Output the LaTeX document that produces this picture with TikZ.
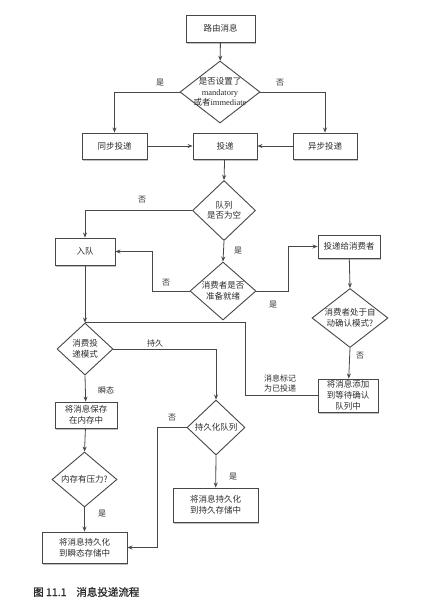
\documentclass[tikz,border=0pt]{standalone}
\usepackage{fontspec}
\setmainfont{Noto Sans CJK SC}
\newfontfamily\latfont{Liberation Serif}
\newfontfamily\capfont[FakeBold=1.2]{Noto Sans CJK SC}
\usepackage{tikz}
\usetikzlibrary{arrows.meta,positioning,shapes.geometric,shadows}
\usepackage{xcolor}
\definecolor{ink}  {HTML}{2E2E2E}
\definecolor{wire} {HTML}{474747}

\tikzset{
  box/.style={draw=wire, line width=0.9pt, fill=white, align=center,
    inner sep=0pt, text=ink, font=\fontsize{8.5}{11}\selectfont,
    drop shadow={shadow xshift=1pt, shadow yshift=-1.6pt, opacity=.5}},
  dia/.style={diamond, draw=wire, line width=0.9pt, fill=white, inner sep=0pt},
  dtext/.style={align=center, text=ink, inner sep=0pt,
    font=\fontsize{8.5}{10.5}\selectfont},
  flow/.style={draw=wire, line width=0.8pt, -{Stealth[length=5pt,width=4pt]}},
  link/.style={draw=wire, line width=0.8pt},
  tag/.style={text=ink, inner sep=0pt, font=\fontsize{8}{10}\selectfont},
}

\begin{document}
\begin{tikzpicture}[x=1pt, y=-1pt]
  \useasboundingbox[fill=white] (0,0) rectangle (441,610);

  % top part
  \node[box, minimum width=69pt, minimum height=27pt] (route) at (220.5,28.5) {路由消息};
  \node[dia, minimum width=80pt, minimum height=62pt,
    label={[dtext]center:{是否设置了\\{\latfont mandatory}\\或者{\latfont immediate}}}] (mand) at (220,92) {};
  \node[box, minimum width=65pt, minimum height=26pt] (sync) at (114.5,146) {同步投递};
  \node[box, minimum width=64pt, minimum height=26pt] (deliver) at (225,146) {投递};
  \node[box, minimum width=64pt, minimum height=26pt] (async) at (325,146) {异步投递};

  % queue part
  \node[dia, minimum width=63pt, minimum height=60pt,
    label={[dtext]center:{队列\\是否为空}}] (empty) at (224,210.5) {};
  \node[box, minimum width=60pt, minimum height=27pt] (enq) at (85,251.5) {入队};
  \node[dia, minimum width=66pt, minimum height=58pt,
    label={[dtext]center:{消费者是否\\准备就绪}}] (ready) at (223,291) {};
  \node[box, minimum width=62pt, minimum height=23pt] (tocons) at (349,246.5) {投递给消费者};
  \node[dia, minimum width=76pt, minimum height=59pt,
    label={[dtext]center:{消费者处于自\\动确认模式?}}] (auto) at (350,318) {};
  \node[box, minimum width=60pt, minimum height=33pt] (addwait) at (348,395.5) {将消息添加\\到等待确认\\队列中};

  % delivery mode part
  \node[dia, minimum width=56pt, minimum height=52pt,
    label={[dtext]center:{消费投\\递模式}}] (mode) at (85,349) {};
  \node[box, minimum width=62pt, minimum height=26pt] (savemem) at (86,415) {将消息保存\\在内存中};
  \node[dia, minimum width=65pt, minimum height=55pt,
    label={[dtext]center:{内存有压力?}}] (press) at (84.5,479.5) {};
  \node[box, minimum width=85pt, minimum height=31pt] (perstrans) at (84.5,547.5) {将消息持久化\\到瞬态存储中};
  \node[dia, minimum width=58pt, minimum height=55pt,
    label={[dtext]center:{持久化队列}}] (persist) at (216,427.5) {};
  \node[box, minimum width=85pt, minimum height=34pt] (persdur) at (215.5,505) {将消息持久化\\到持久存储中};

  % connectors
  \draw[flow] (route) -- (mand);
  \draw[flow] (mand.west) -| (sync.north);
  \draw[flow] (mand.east) -| (async.north);
  \draw[flow] (sync) -- (deliver);
  \draw[flow] (async) -- (deliver);
  \draw[flow] (deliver) -- (empty.north);
  \draw[flow] (empty.west) -| (enq.north);
  \draw[flow] (empty.south) -- (ready.north);
  \draw[flow] (ready.west) -- ++(-37,0) |- (enq.east);
  \draw[flow] (ready.east) -- ++(32,0) |- (tocons.west);
  \draw[flow] (tocons) -- (auto.north);
  \draw[flow] (auto.south) -- (addwait);
  \draw[flow] (enq) -- (mode.north);
  \draw[link] (addwait.west) -| ([xshift=160pt]mode.north) -- (mode.north);
  \draw[flow] (mode.east) -| (persist.north);
  \draw[flow] (mode.south) -- (savemem);
  \draw[flow] (savemem) -- (press.north);
  \draw[flow] (press.south) -- (perstrans);
  \draw[flow] (persist.west) -- ++(-29,0) |- (perstrans.east);
  \draw[flow] (persist.south) -- (persdur);

  % labels
  \node[tag] (yes1) at (160,83) {是};
  \node[tag] (no1) at (280,83) {否};
  \node[tag] (no2) at (142,200) {否};
  \node[tag] (yes2) at (238,251) {是};
  \node[tag] (no3) at (166,283) {否};
  \node[tag] (yes3) at (273,305) {是};
  \node[tag] (no4) at (360,356) {否};
  \node[tag, align=center] (marked) at (280,383) {消息标记\\为已投递};
  \node[tag] (durable) at (155,343) {持久};
  \node[tag] (transient) at (106,390) {瞬态};
  \node[tag] (no5) at (172,418) {否};
  \node[tag] (yes4) at (102,514) {是};
  \node[tag] (yes5) at (233,477) {是};

  \node[anchor=west, text=ink, inner sep=0pt, font=\capfont\fontsize{10.5}{12}\selectfont]
    (caption) at (33,592) {图 11.1\hspace{10pt}消息投递流程};
\end{tikzpicture}
\end{document}
